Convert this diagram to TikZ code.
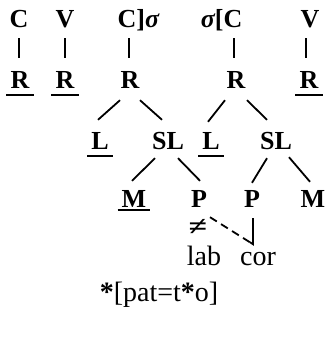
\documentclass[tikz,border=0pt]{standalone}
\usepackage{fontspec}
\setmainfont{Liberation Serif}
\begin{document}
\begin{tikzpicture}[x=1pt,y=-1pt,
  lbl/.style={font=\fontsize{26}{30}\selectfont\bfseries, inner sep=0pt,
              anchor=base, text height=18pt, text depth=0pt},
  plain/.style={font=\fontsize{28}{32}\selectfont, inner sep=0pt, anchor=base},
  edge/.style={line width=1.8pt},
  under/.style={line width=1.4pt},
  link/.style={line width=1.8pt, dash pattern=on 8pt off 5pt}]
\useasboundingbox (0,0) rectangle (326,337);

% segmental tier
\node[lbl] (c1) at (19,28) {C};
\node[lbl] (v1) at (65,28) {V};
\node[lbl] (c3) at (127,28) {C\rlap{]{\itshape σ}}};
\node[lbl] (c4) at (233,28) {\llap{{\itshape σ}[}C};
\node[lbl] (v2) at (310,28) {V};

% root nodes
\node[lbl] (r1) at (20,88) {R};
\node[lbl] (r2) at (65,88) {R};
\node[lbl] (r3) at (130,88) {R};
\node[lbl] (r4) at (236,88) {R};
\node[lbl] (r5) at (309,88) {R};

% laryngeal / supralaryngeal
\node[lbl] (l1) at (100,149) {L};
\node[lbl] (sl1) at (168,149) {SL};
\node[lbl] (l2) at (211,149) {L};
\node[lbl] (sl2) at (276,149) {SL};

% manner / place
\node[lbl] (m1) at (134,207) {M};
\node[lbl] (p1) at (199,207) {P};
\node[lbl] (p2) at (252,207) {P};
\node[lbl] (m2) at (313,207) {M};

% place features
\node[inner sep=0pt, font=\fontsize{27}{30}\selectfont\bfseries, xscale=1.25] (ne) at (198,227) {≠};
\node[plain] (lab) at (204,265) {lab};
\node[plain] (cor) at (258,265) {cor};

% the starred form
\node[plain] (form) at (159,301) {{\bfseries *}[pat=t{\bfseries *}o]};

% underlined (unspecified) nodes
\foreach \n/\d in {r1/7,r2/7,r5/7,l1/7,l2/7,m1/3}
  \draw[under] ([shift={(-4,\d)}]\n.base west) -- ([shift={(4,\d)}]\n.base east);

% association lines
\draw[edge, shorten <=10pt, shorten >=12pt] (c1.south) -- (c1.south |- r1.north);
\draw[edge, shorten <=10pt, shorten >=12pt] (v1.south) -- (v1.south |- r2.north);
\draw[edge, shorten <=10pt, shorten >=12pt] ([xshift=2pt]c3.south) -- ([xshift=2pt]c3.south |- r3.north);
\draw[edge, shorten <=10pt, shorten >=12pt] ([xshift=1pt]c4.south) -- ([xshift=1pt]c4.south |- r4.north);
\draw[edge, shorten <=10pt, shorten >=12pt] ([xshift=-4pt]v2.south) -- ([xshift=-4pt]v2.south |- r5.north);

\draw[edge] ([shift={(-10,12)}]r3.south) -- ([shift={(-2,-11)}]l1.north);
\draw[edge] ([shift={(10,12)}]r3.south) -- ([shift={(-6,-11)}]sl1.north);
\draw[edge] ([shift={(-11,12)}]r4.south) -- ([shift={(-3,-9)}]l2.north);
\draw[edge] ([shift={(11,12)}]r4.south) -- ([shift={(-9,-11)}]sl2.north);

\draw[edge] ([shift={(-13,9)}]sl1.south) -- ([shift={(-2,-8)}]m1.north);
\draw[edge] ([shift={(10,9)}]sl1.south) -- ([shift={(1,-8)}]p1.north);
\draw[edge] ([shift={(-9,9)}]sl2.south) -- ([shift={(0,-6)}]p2.north);
\draw[edge] ([shift={(13,8)}]sl2.south) -- ([shift={(-3,-7)}]m2.north);

% spreading of coronal place
\coordinate (j) at ([shift={(1,37)}]p2.south);
\draw[edge] ([shift={(1,11)}]p2.south) -- (j) -- ++(-3,-2);
\draw[link] ([shift={(11,10)}]p1.south) -- (j);
\end{tikzpicture}
\end{document}
